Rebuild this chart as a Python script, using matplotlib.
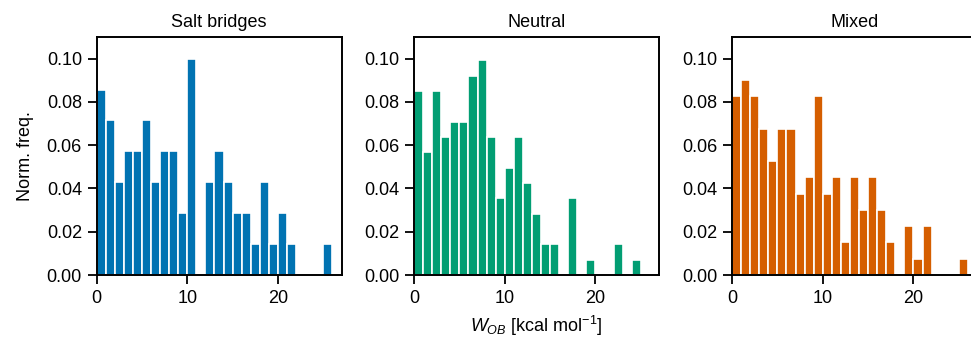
import numpy as np
import matplotlib
matplotlib.use("Agg")
import matplotlib.pyplot as plt

# Histogram counts per 1 kcal/mol bin, bins start at 0
bin_left = np.arange(26)
salt_counts = [6, 5, 3, 4, 4, 5, 3, 4, 4, 2, 7, 0, 3, 4, 3, 2, 2, 1, 3, 1, 2, 1, 0, 0, 0, 1]
neutral_counts = [12, 8, 12, 9, 10, 10, 13, 14, 9, 5, 7, 9, 6, 4, 2, 2, 0, 5, 0, 1, 0, 0, 2, 0, 1, 0]
mixed_counts = [11, 12, 11, 9, 7, 9, 9, 5, 6, 11, 5, 6, 2, 6, 4, 6, 4, 2, 0, 3, 1, 3, 0, 0, 0, 1]

titles = ["Salt bridges", "Neutral", "Mixed"]
colors = ["#0173B2", "#029E73", "#D55E00"]
xticks = [0, 10, 20]
yticks = [0.00, 0.02, 0.04, 0.06, 0.08, 0.10]

plt.rcParams['font.family'] = ['Liberation Sans', 'DejaVu Sans']
plt.rcParams['mathtext.fontset'] = 'custom'
plt.rcParams['mathtext.rm'] = 'Liberation Sans'
plt.rcParams['mathtext.it'] = 'Liberation Sans:italic'
plt.rcParams['axes.linewidth'] = 1.4
plt.rcParams['xtick.major.width'] = 1.3
plt.rcParams['ytick.major.width'] = 1.3
plt.rcParams['xtick.major.size'] = 6.5
plt.rcParams['ytick.major.size'] = 6.5
plt.rcParams['xtick.major.pad'] = 4.5
plt.rcParams['ytick.major.pad'] = 4.0

W, H = 971, 339
fig = plt.figure(figsize=(W / 100, H / 100), dpi=100)

lefts = [96.5, 414.0, 732.0]
ax_w, ax_top, ax_bot = 245.0, 37.0, 275.0

axes = []
for left, counts, title, color in zip(lefts, [salt_counts, neutral_counts, mixed_counts], titles, colors):
    ax = fig.add_axes([left / W, (H - ax_bot) / H, ax_w / W, (ax_bot - ax_top) / H])
    counts = np.array(counts, dtype=float)
    freq = counts / counts.sum()
    ax.bar(bin_left, freq, width=1.0, align='edge', color=color,
           edgecolor='white', linewidth=1.2)
    ax.set_xlim(0, 27)
    ax.set_ylim(0, 0.11)
    ax.set_xticks(xticks)
    ax.set_yticks(yticks)
    ax.set_yticklabels([f"{v:.2f}" for v in yticks])
    ax.tick_params(labelsize=13)
    ax.set_title(title, fontsize=13, pad=7)
    axes.append(ax)

axes[0].set_ylabel("Norm. freq.", fontsize=13, labelpad=9)
axes[1].set_xlabel(r"$W_{OB}$ [kcal mol$^{-1}$]", fontsize=13, labelpad=5)

fig.savefig("out.png", dpi=100)
